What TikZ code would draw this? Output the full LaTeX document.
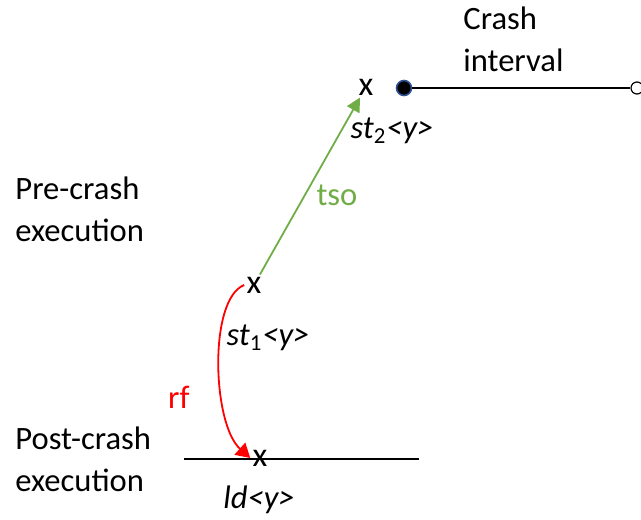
\documentclass[tikz,border=0pt]{standalone}
\usepackage{fontspec}
\setmainfont{Carlito}
\usepackage{tikz}
\usetikzlibrary{arrows.meta,positioning}
\definecolor{tsogreen}{RGB}{112,173,71}
\definecolor{dotblue}{RGB}{47,85,151}

\begin{document}
\begin{tikzpicture}[x=0.5pt,y=-0.5pt,
  txt/.style={font=\fontsize{16.3}{21}\selectfont,align=left,inner sep=0pt},
  ev/.style={font=\fontsize{17}{21}\selectfont,inner sep=1pt},
  lbl/.style={font=\fontsize{16.3}{21}\selectfont\itshape,inner sep=0pt}]
\useasboundingbox (0,0) rectangle (641,519);
% phase labels
\node[txt,anchor=west] (pre) at (15,209) {Pre-crash\\execution};
\node[txt,anchor=west] (post) at (15,459) {Post-crash\\execution};
\node[txt,anchor=west] (crash) at (463,39) {Crash\\interval};
% crash interval
\node[circle,draw=dotblue,fill=black,inner sep=0pt,minimum size=7.5pt,line width=0.8pt] (cstart) at (404,88) {};
\node[circle,draw=black,fill=white,inner sep=0pt,minimum size=6pt,line width=0.6pt] (cend) at (637,88) {};
\draw[line width=0.8pt] (cstart) -- (cend);
% post-crash line
\coordinate (pl) at (184,459);
\coordinate (pr) at (419,459);
\draw[line width=1.2pt] (pl) -- (pr);
% events
\node[ev] (st2) at (366,87) {x};
\node[ev] (st1) at (254,285) {x};
\node[ev] (ld) at (260,458) {x};
\node[lbl] (st2l) at (392,131) {st\textsubscript{\upshape 2}<y>};
\node[lbl] (st1l) at (268,338) {st\textsubscript{\upshape 1}<y>};
\node[lbl] (ldl) at (259,500) {ld<y>};
% relations
\draw[-{Triangle[length=7pt,width=7pt]},tsogreen,line width=0.9pt] (st1) --
  node[right=2pt,pos=0.45,font=\fontsize{16.3}{21}\selectfont,text=tsogreen]{tso} (st2);
\draw[-{Triangle[length=7pt,width=8pt]},red,line width=0.9pt] (st1.west) .. controls +(-36,14) and +(-38,-34) .. (ld.west)
  node[pos=0.65,left=13pt,font=\fontsize{16.3}{21}\selectfont,text=red] (rf) {rf};
\end{tikzpicture}
\end{document}
